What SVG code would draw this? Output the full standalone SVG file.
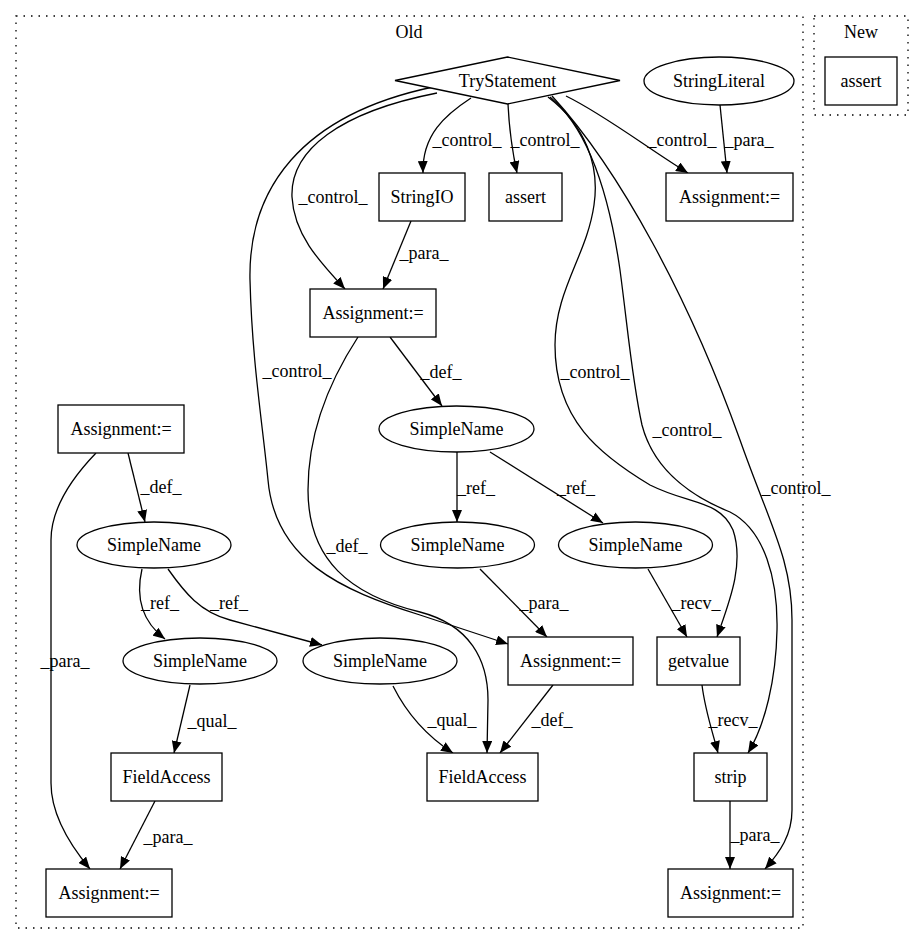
<svg xmlns="http://www.w3.org/2000/svg" width="924" height="944" viewBox="0 0 924 944" font-family="Liberation Serif, DejaVu Serif, serif" font-size="18">
<style>
text{font-family:'Liberation Serif','DejaVu Serif',serif;font-size:18px;fill:#000;text-anchor:middle}
.n{fill:#fff;stroke:#000;stroke-width:1.3}
.cl{fill:none;stroke:#000;stroke-width:1.3;stroke-dasharray:1.5,6}
.e{fill:none;stroke:#000;stroke-width:1.3;marker-end:url(#ah)}
</style>
<defs>
<marker id="ah" markerUnits="userSpaceOnUse" markerWidth="12" markerHeight="10" refX="12" refY="5" orient="auto">
<path d="M0,0 L12,5 L0,10 z" fill="#000"/>
</marker>
</defs>
<rect width="924" height="944" fill="#fff"/>
<g id="cluster_old">
<rect class="cl" x="16" y="16" width="787" height="912"/>
<text x="409" y="38">Old</text>
</g>
<g id="cluster_new">
<rect class="cl" x="814" y="16" width="94" height="99"/>
<text x="861" y="38">New</text>
</g>
<g id="edges">
<path class="e" d="M471,98 C445,115 422,135 423,173"/>
<path class="e" d="M508,104 C509,125 512,150 517,173"/>
<path class="e" d="M566,96 C605,115 650,150 688,173"/>
<path class="e" d="M720,105 L727,173"/>
<path class="e" d="M437,93 C340,112 290,150 292,197 C294,235 320,262 345,289"/>
<path class="e" d="M433,87 C300,115 248,190 250,280 C252,360 262,420 268,480 C275,560 340,590 420,615 L508,644"/>
<path class="e" d="M358,337 C330,380 308,430 308,490 C308,560 350,595 420,612 C470,625 488,660 488,700 L487,753"/>
<path class="e" d="M390,337 L442,406"/>
<path class="e" d="M457,452 L457,522"/>
<path class="e" d="M490,452 L603,523"/>
<path class="e" d="M480,569 L547,637"/>
<path class="e" d="M648,569 L687,637"/>
<path class="e" d="M548,97 C585,125 600,165 594,205 C587,255 555,290 555,345 C555,420 600,455 650,485 C690,505 720,500 733,530 C745,565 728,605 717,637"/>
<path class="e" d="M550,97 C590,130 610,200 620,270 C628,330 632,380 642,425 C655,475 700,500 730,512 C765,530 778,580 777,630 C776,680 765,725 748,753"/>
<path class="e" d="M552,96 C620,170 690,300 740,440 C770,525 792,560 792,620 L792,810 C792,835 780,852 765,869"/>
<path class="e" d="M702,685 C705,710 712,730 718,753"/>
<path class="e" d="M730,801 L730,869"/>
<path class="e" d="M128,453 L145,522"/>
<path class="e" d="M96,453 C70,480 51,510 51,540 L51,783 C51,815 70,845 90,869"/>
<path class="e" d="M142,569 C136,595 140,620 165,639"/>
<path class="e" d="M168,569 C185,593 200,612 230,620 L322,645"/>
<path class="e" d="M190,685 L174,753"/>
<path class="e" d="M393,686 C405,710 425,735 453,753"/>
<path class="e" d="M553,685 L500,753"/>
<path class="e" d="M155,801 L120,869"/>
<path class="e" d="M411,221 L383,289"/>
<text x="467" y="146">_control_</text>
<text x="545" y="146">_control_</text>
<text x="682" y="146">_control_</text>
<text x="749" y="146">_para_</text>
<text x="333" y="203">_control_</text>
<text x="424" y="259">_para_</text>
<text x="441" y="378">_def_</text>
<text x="297" y="377">_control_</text>
<text x="595" y="378">_control_</text>
<text x="687" y="436">_control_</text>
<text x="161" y="493">_def_</text>
<text x="476" y="494">_ref_</text>
<text x="576" y="494">_ref_</text>
<text x="796" y="494">_control_</text>
<text x="347" y="552">_def_</text>
<text x="160" y="609">_ref_</text>
<text x="229" y="609">_ref_</text>
<text x="544" y="609">_para_</text>
<text x="696" y="609">_recv_</text>
<text x="65" y="667">_para_</text>
<text x="212" y="727">_qual_</text>
<text x="452" y="726">_qual_</text>
<text x="552" y="726">_def_</text>
<text x="733" y="726">_recv_</text>
<text x="168" y="843">_para_</text>
<text x="755" y="841">_para_</text>
</g>
<g id="n_try"><polygon class="n" points="395,80.5 507.5,57 620,80.5 507.5,104"/><text x="507.5" y="86.5">TryStatement</text></g>
<g id="n_strlit"><ellipse class="n" cx="719" cy="81" rx="75" ry="24"/><text x="719" y="87">StringLiteral</text></g>
<g id="n_asg_tr"><rect class="n" x="666" y="173" width="127" height="48"/><text x="729.5" y="203">Assignment:=</text></g>
<g id="n_stringio"><rect class="n" x="379" y="173" width="86" height="48"/><text x="422" y="203">StringIO</text></g>
<g id="n_assert_old"><rect class="n" x="489" y="173" width="73" height="48"/><text x="525.5" y="203">assert</text></g>
<g id="n_asg_mid"><rect class="n" x="310" y="289" width="126" height="48"/><text x="373" y="319">Assignment:=</text></g>
<g id="n_sn_def"><ellipse class="n" cx="456.5" cy="429" rx="77.5" ry="23"/><text x="456.5" y="435">SimpleName</text></g>
<g id="n_asg_left"><rect class="n" x="58" y="405" width="126" height="48"/><text x="121" y="435">Assignment:=</text></g>
<g id="n_sn_left"><ellipse class="n" cx="154" cy="545" rx="77" ry="23"/><text x="154" y="551">SimpleName</text></g>
<g id="n_sn_ref1"><ellipse class="n" cx="457.5" cy="545" rx="77" ry="23"/><text x="457.5" y="551">SimpleName</text></g>
<g id="n_sn_ref2"><ellipse class="n" cx="635.5" cy="545" rx="77" ry="23"/><text x="635.5" y="551">SimpleName</text></g>
<g id="n_sn_ll1"><ellipse class="n" cx="200" cy="661" rx="77" ry="23"/><text x="200" y="667">SimpleName</text></g>
<g id="n_sn_ll2"><ellipse class="n" cx="380" cy="661" rx="77" ry="23"/><text x="380" y="667">SimpleName</text></g>
<g id="n_asg_ml"><rect class="n" x="508" y="637" width="125" height="48"/><text x="570.5" y="667">Assignment:=</text></g>
<g id="n_getvalue"><rect class="n" x="657" y="637" width="83" height="48"/><text x="698.5" y="667">getvalue</text></g>
<g id="n_fa_left"><rect class="n" x="111" y="753" width="111" height="48"/><text x="166.5" y="783">FieldAccess</text></g>
<g id="n_fa_mid"><rect class="n" x="427" y="753" width="111" height="48"/><text x="482.5" y="783">FieldAccess</text></g>
<g id="n_strip"><rect class="n" x="694" y="753" width="73" height="48"/><text x="730.5" y="783">strip</text></g>
<g id="n_asg_bl"><rect class="n" x="46" y="869" width="126" height="48"/><text x="109" y="899">Assignment:=</text></g>
<g id="n_asg_br"><rect class="n" x="668" y="869" width="125" height="48"/><text x="730.5" y="899">Assignment:=</text></g>
<g id="n_assert_new"><rect class="n" x="825" y="57" width="72" height="48"/><text x="861" y="87">assert</text></g>
</svg>
